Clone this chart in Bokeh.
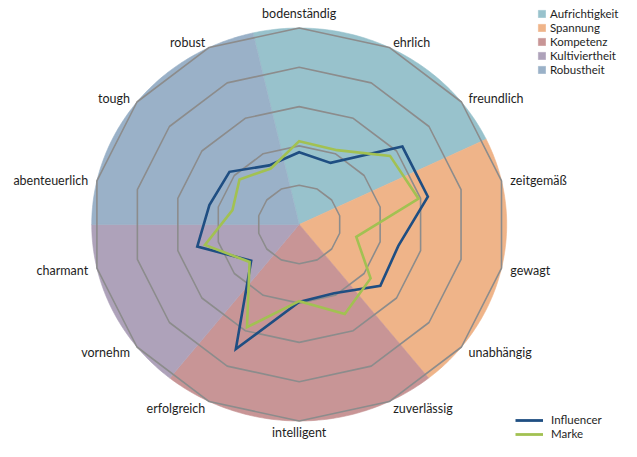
import numpy as np
from bokeh.plotting import figure
from bokeh.models import ColumnDataSource, Legend, LegendItem, Range1d
from bokeh.core.properties import value
from bokeh.embed import file_html
from bokeh.resources import INLINE

# ---- data ----
categories = ["bodenständig", "ehrlich", "freundlich", "zeitgemäß", "gewagt",
              "unabhängig", "zuverlässig", "intelligent", "erfolgreich",
              "vornehm", "charmant", "abenteuerlich", "tough", "robust"]
influencer = [1.84, 1.74, 3.18, 3.18, 2.45, 2.50, 1.94, 1.97, 3.52, 1.48, 2.52, 2.22, 2.15, 1.67]
marke = [2.12, 2.10, 2.80, 2.95, 1.41, 2.20, 2.53, 1.95, 2.90, 1.53, 2.33, 1.65, 1.84, 1.58]

group_names = ["Aufrichtigkeit", "Spannung", "Kompetenz", "Kultiviertheit", "Robustheit"]
group_sizes = [3, 3, 3, 2, 3]
group_colors = ["#98c2cc", "#efb489", "#c89596", "#aea2ba", "#9ab1c8"]

grid_levels = [1, 2, 3, 4, 5]
r_max = 5

series_names = ["Influencer", "Marke"]
series_colors = ["#1f4e82", "#a2c152"]

FONT_NAME = "Lato"
FONT = value(FONT_NAME)
W, H = 621, 441

n = len(categories)
step = 2 * np.pi / n
ang = np.pi / 2 - np.arange(n) * step
cosa, sina = np.cos(ang), np.sin(ang)

p = figure(width=W, height=H,
           x_range=Range1d(-7.198, 7.766), y_range=Range1d(-5.522, 5.700),
           output_backend="svg", toolbar_location=None, min_border=0,
           x_axis_location=None, y_axis_location=None,
           outline_line_color=None, background_fill_color="white")
p.grid.visible = False

# ---- background sectors ----
sector_renderers = []
start = 0
for name, size, color in zip(group_names, group_sizes, group_colors):
    a0 = ang[start] + step / 2
    a1 = ang[start + size - 1] - step / 2
    t = np.linspace(a0, a1, 80)
    xs = np.concatenate([[0.0], r_max * np.cos(t)])
    ys = np.concatenate([[0.0], r_max * np.sin(t)])
    r = p.patch(xs, ys, fill_color=color, line_color=color, line_width=0.6)
    sector_renderers.append(r)
    start += size

# ---- grid polygons ----
for lv in grid_levels:
    p.patch(lv * cosa, lv * sina, fill_color=None, line_color="#8c8c8c", line_width=1.6)

# ---- series (closed polygons) ----
legend_renderers = []
for vals, color in zip([influencer, marke], series_colors):
    v = np.array(vals)
    p.patch(v * cosa, v * sina, fill_color=None, line_color=color,
            line_width=2.6, line_join="miter")
    # line renderer with a single NaN point, used only for the legend swatch
    legend_renderers.append(p.line(x=[np.nan], y=[np.nan], line_color=color, line_width=2.8))

# ---- category labels ----
aligns, xoff, yoff = [], [], []
for c, s in zip(cosa, sina):
    if abs(c) < 0.1:
        aligns.append("center")
        xoff.append(0)
        yoff.append(-15 if s > 0 else 12)
    else:
        aligns.append("left" if c > 0 else "right")
        xoff.append(9 * c)
        yoff.append(-7 * s + 1)

lab_src = ColumnDataSource(dict(x=r_max * cosa, y=r_max * sina, text=categories,
                                align=aligns, xo=xoff, yo=yoff))
p.text(x="x", y="y", text="text", source=lab_src, text_align="align",
       x_offset="xo", y_offset="yo", text_baseline="middle",
       text_font=FONT, text_font_size="12.5px", text_color="#1e1e1e")

# ---- legends (one single-item legend per row for tight row spacing) ----
LEG_FONT_SIZE = "11.5px"
ITEM_H = 13.8


def add_row_legend(label, renderer, left, center_y, gw, gh, standoff):
    leg = Legend(items=[LegendItem(label=label, renderers=[renderer])],
                 location=(left, H - center_y - ITEM_H / 2),
                 glyph_width=gw, glyph_height=gh, label_height=13, spacing=0,
                 label_standoff=standoff, padding=0, margin=0,
                 border_line_color=None, background_fill_alpha=0,
                 label_text_font=FONT_NAME, label_text_font_size=LEG_FONT_SIZE,
                 label_text_color="#1e1e1e")
    p.add_layout(leg)


leg1_left, leg1_top, leg1_step = 537, 13, 13.9
for i, (nm, r) in enumerate(zip(group_names, sector_renderers)):
    add_row_legend(nm, r, leg1_left, leg1_top + i * leg1_step, 9, 9, 4)

leg2_left, leg2_top, leg2_step = 515, 419.5, 13.9
for i, (nm, r) in enumerate(zip(series_names, legend_renderers)):
    add_row_legend(nm, r, leg2_left, leg2_top + i * leg2_step, 28, 12, 8)

open("out.html", "w").write(file_html(p, INLINE))
